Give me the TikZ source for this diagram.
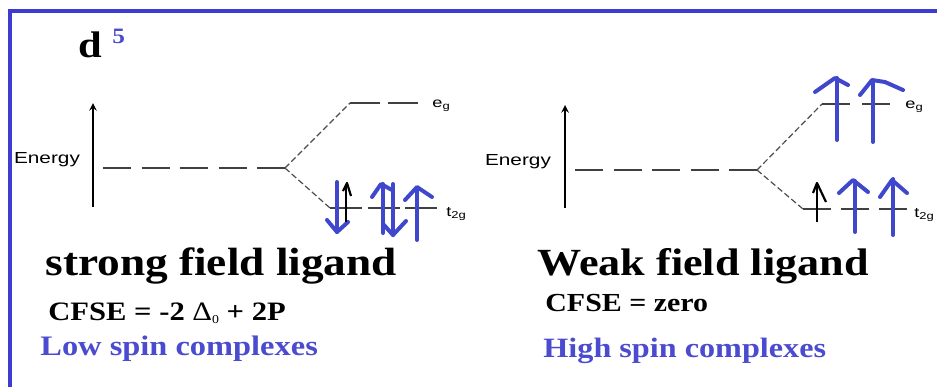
\documentclass[tikz,border=0pt]{standalone}
\usepackage{fontspec}
\setmainfont{Liberation Serif}[FakeStretch=1.15]
\newfontfamily\lblfont{Liberation Sans}[FakeStretch=1.3]
\usetikzlibrary{arrows, positioning, calc}
\definecolor{frame_blue}{HTML}{3C3CD2}
\definecolor{spin_blue}{HTML}{3F48CC}
\definecolor{text_blue}{HTML}{4B4BCF}

\begin{document}
\begin{tikzpicture}[
                x=0.5pt, y=-0.5pt,
                level/.style={draw=black!75, line width=0.9pt},
                split/.style={draw=black!70, line width=0.6pt, dash pattern=on 3pt off 1.5pt},
                axis/.style={draw=black, line width=0.7pt, ->, >=stealth},
                spin/.style={draw=spin_blue, line width=2pt, line cap=round, line join=round},
                elec/.style={draw=black, line width=0.8pt, line join=round},
                txt/.style={inner sep=0, anchor=base west},
                lbl/.style={inner sep=0, anchor=base west, font=\lblfont\fontsize{7}{8}\selectfont}
            ]
                \useasboundingbox (0,0) rectangle (937,387);
                % Frame
                \draw[frame_blue, line width=2.2pt] (10,387) -- (10,11) -- (937,11);

                % Title
                \node (dtitle) [txt, font=\fontsize{18.5}{20}\selectfont\bfseries] at (78,57) {d};
                \node (dexp) [txt, font=\fontsize{11}{12}\selectfont\bfseries, text=text_blue] at (112,43) {5};

                % Left diagram: coordinates
                \coordinate (Lbot) at (93,207);
                \coordinate (Ltop) at (93,103);
                \coordinate (Lstart) at (103,168);
                \coordinate (Lsplit) at (285,168);
                \coordinate (Leg) at (350,103);
                \coordinate (Legend) at (418,103);
                \coordinate (Lt) at (330,208);
                \coordinate (Ltend) at (437,208);

                \node (Lenergy) [lbl, anchor=center, font=\lblfont\fontsize{8}{9}\selectfont] at (47,160) {Energy};
                \draw [axis] (Lbot) -- (Ltop);
                \draw [level, dash pattern=on 14pt off 5.25pt] (Lstart) -- (Lsplit);
                \draw [split] (Lsplit) -- (Leg);
                \draw [split] (Lsplit) -- (Lt);
                \draw [level, dash pattern=on 15pt off 4pt] (Leg) -- (Legend);
                \draw [level, dash pattern=on 16pt off 2.75pt] (Lt) -- (Ltend);
                \node (Legl) [lbl] at (432,107) {e\textsubscript{g}};
                \node (Ltl) [lbl] at (446,216) {t\textsubscript{2g}};

                % Left electrons
                \draw [spin] (337,182) -- (337,232);
                \draw [spin] (327,220) -- (337,232) -- (348,222);
                \draw [elec] (346,222) -- (346,184);
                \draw [elec, line width=1.1pt] (343,191) -- (347,183) -- (351,196);
                \draw [spin] (383,233) -- (383,184);
                \draw [spin] (372,197) -- (381,184) -- (392,190);
                \draw [spin] (393,184) -- (393,235);
                \draw [spin] (384,225) -- (393,235) -- (406,221);
                \draw [spin] (417,240) -- (417,188);
                \draw [spin] (405,200) -- (417,187) -- (432,197);

                % Right diagram: coordinates
                \coordinate (Rbot) at (565,208);
                \coordinate (Rtop) at (565,105);
                \coordinate (Rstart) at (575,170);
                \coordinate (Rsplit) at (757,170);
                \coordinate (Reg) at (822,104);
                \coordinate (Regend) at (890,104);
                \coordinate (Rt) at (803,209);
                \coordinate (Rtend) at (908,209);

                \node (Renergy) [lbl, anchor=center, font=\lblfont\fontsize{8}{9}\selectfont] at (518,162) {Energy};
                \draw [axis] (Rbot) -- (Rtop);
                \draw [level, dash pattern=on 14pt off 5.25pt] (Rstart) -- (Rsplit);
                \draw [split] (Rsplit) -- (Reg);
                \draw [split] (Rsplit) -- (Rt);
                \draw [level, dash pattern=on 14pt off 6pt] (Reg) -- (Regend);
                \draw [level, dash pattern=on 14pt off 5pt] (Rt) -- (Rtend);
                \node (Regl) [lbl] at (905,108) {e\textsubscript{g}};
                \node (Rtl) [lbl] at (914,217) {t\textsubscript{2g}};

                % Right electrons
                \draw [elec] (817,222) -- (817,184);
                \draw [elec, line width=1.1pt] (813,193) -- (817,183) -- (826,202);
                \draw [spin] (855,232) -- (855,181);
                \draw [spin] (839,193) -- (853,180) -- (868,192);
                \draw [spin] (893,235) -- (893,179);
                \draw [spin] (880,197) -- (892,180) -- (907,193);
                \draw [spin] (837,140) -- (837,78);
                \draw [spin] (815,92) -- (835,78) -- (848,85);
                \draw [spin] (873,142) -- (873,81);
                \draw [spin] (860,95) -- (872,80) -- (885,82) -- (903,90);

                % Captions
                \node (Lfield) [txt, font=\fontsize{19.7}{22}\selectfont\bfseries] at (45,275) {strong field ligand};
                \node (Lcfse) [txt, font=\fontsize{13.3}{15}\selectfont\bfseries] at (48,320) {CFSE = -2 {\mdseries Δ\raisebox{-0.3ex}{\fontsize{6}{7}\selectfont 0}} + 2P};
                \node (Lspin) [txt, font=\fontsize{14.1}{16}\selectfont\bfseries, text=text_blue] at (40,355) {Low spin complexes};
                \node (Rfield) [txt, font=\fontsize{19.2}{22}\selectfont\bfseries] at (537,275) {Weak field ligand};
                \node (Rcfse) [txt, font=\fontsize{13}{15}\selectfont\bfseries] at (545,311) {CFSE = zero};
                \node (Rspin) [txt, font=\fontsize{14}{16}\selectfont\bfseries, text=text_blue] at (543,357) {High spin complexes};
            \end{tikzpicture}
\end{document}
